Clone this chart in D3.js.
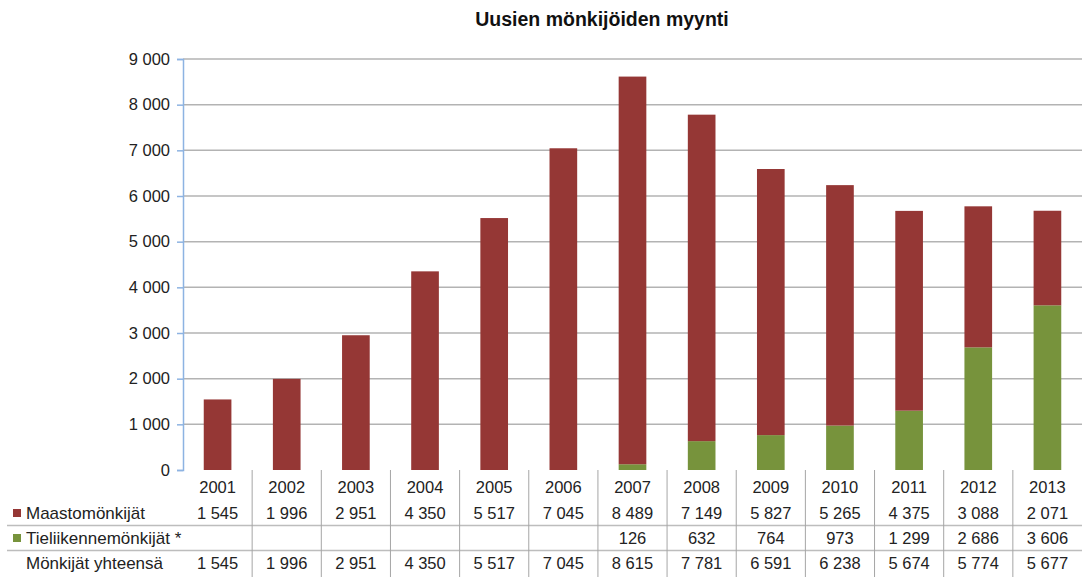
<!DOCTYPE html>
<html><head><meta charset="utf-8">
<script src="https://cdn.jsdelivr.net/npm/d3@7"></script>
<style>
html,body{margin:0;padding:0;background:#fff;}
svg{display:block;font-family:"Liberation Sans",Arial,sans-serif;}
</style></head>
<body><svg id="c" width="1088" height="577"></svg>
<script>
const title = "Uusien mönkijöiden myynti";
const years = ["2001","2002","2003","2004","2005","2006","2007","2008","2009","2010","2011","2012","2013"];
const maasto = [1545,1996,2951,4350,5517,7045,8489,7149,5827,5265,4375,3088,2071];
const tieliikenne = [null,null,null,null,null,null,126,632,764,973,1299,2686,3606];
const yhteensa = [1545,1996,2951,4350,5517,7045,8615,7781,6591,6238,5674,5774,5677];
const seriesNames = ["Maastomönkijät","Tieliikennemönkijät *","Mönkijät yhteensä"];
const seriesColors = ["#953735","#77933C"];
const yTicks = [0,1000,2000,3000,4000,5000,6000,7000,8000,9000];

(function(){
const loc = d3.formatLocale({decimal:",",thousands:"\u00a0",grouping:[3],currency:["","€"]});
const fmt = loc.format(",d");

const svg = d3.select("#c");
const pLeft = 183, pRight = 1082, pTop = 59, pBottom = 470;

const x = d3.scaleBand().domain(years).range([pLeft,pRight]).paddingInner(0.6).paddingOuter(0.3);
const y = d3.scaleLinear().domain([0,9000]).range([pBottom,pTop]);

// title
svg.append("text").attr("x",602).attr("y",26).attr("text-anchor","middle")
  .attr("font-weight","bold").attr("font-size",19.5).attr("fill","#111").text(title);

// gridlines
svg.append("g").selectAll("line").data(yTicks.filter(d=>d>0)).join("line")
  .attr("x1",pLeft).attr("x2",pRight).attr("y1",d=>y(d)).attr("y2",d=>y(d))
  .attr("stroke","#B3B3B3").attr("stroke-width",1.5);

// y axis
const yAxis = d3.axisLeft(y).tickValues(yTicks).tickSize(6).tickPadding(7).tickFormat(d=>fmt(d));
const gy = svg.append("g").attr("transform",`translate(${pLeft},0)`).call(yAxis);
gy.select(".domain").attr("stroke","#8DB3E2").attr("stroke-width",1.5);
gy.selectAll(".tick line").attr("stroke","#8DB3E2").attr("stroke-width",1.5);
gy.selectAll(".tick text").attr("font-size",16.5).attr("fill","#222").attr("font-family","Liberation Sans, Arial, sans-serif");

// bars: stacked (tieliikenne at bottom, maasto on top)
const rows = years.map((yr,i)=>({year:yr, t: tieliikenne[i]||0, m: maasto[i]}));
const gb = svg.append("g");
gb.selectAll("rect.t").data(rows.filter(d=>d.t>0)).join("rect").attr("class","t")
  .attr("x",d=>x(d.year)).attr("width",x.bandwidth())
  .attr("y",d=>y(d.t)).attr("height",d=>y(0)-y(d.t)).attr("fill",seriesColors[1]);
gb.selectAll("rect.m").data(rows).join("rect").attr("class","m")
  .attr("x",d=>x(d.year)).attr("width",x.bandwidth())
  .attr("y",d=>y(d.t+d.m)).attr("height",d=>y(d.t)-y(d.t+d.m)).attr("fill",seriesColors[0]);

// data table
const rowY = [487,513,538,563];
const lineY = [525.5,550.5];
const tg = svg.append("g");
tg.selectAll("line.h").data(lineY).join("line").attr("class","h")
  .attr("x1",7).attr("x2",pRight).attr("y1",d=>d).attr("y2",d=>d)
  .attr("stroke","#BDBDBD").attr("stroke-width",1.5);
const bounds = years.slice(1).map(yr => x(yr) - x.step()*x.paddingInner()/2);
tg.selectAll("line.v").data(bounds).join("line").attr("class","v")
  .attr("x1",d=>d).attr("x2",d=>d).attr("y1",pBottom).attr("y2",577)
  .attr("stroke","#A6A6A6").attr("stroke-width",1);

const cx = yr => x(yr)+x.bandwidth()/2;
const cell = (arr,ry)=> tg.append("g").selectAll("text").data(years.map((yr,i)=>({yr,v:arr[i]})).filter(d=>d.v!=null)).join("text")
  .attr("x",d=>cx(d.yr)).attr("y",ry).attr("dy","0.35em").attr("text-anchor","middle")
  .attr("font-size",16.5).attr("fill","#222").text(d=>typeof d.v==="number"?fmt(d.v):d.v);
cell(years,rowY[0]);
cell(maasto,rowY[1]);
cell(tieliikenne,rowY[2]);
cell(yhteensa,rowY[3]);

const labels = seriesNames.map((n,i)=>({n,i}));
tg.selectAll("rect.key").data(labels.filter(d=>d.i<2)).join("rect").attr("class","key")
  .attr("x",13).attr("y",d=>rowY[d.i+1]-4).attr("width",8).attr("height",8)
  .attr("fill",d=>seriesColors[d.i]);
tg.selectAll("text.lab").data(labels).join("text").attr("class","lab")
  .attr("x",26).attr("y",d=>rowY[d.i+1]).attr("dy","0.35em")
  .attr("font-size",17).attr("fill","#222").text(d=>d.n);
})();
</script></body></html>
